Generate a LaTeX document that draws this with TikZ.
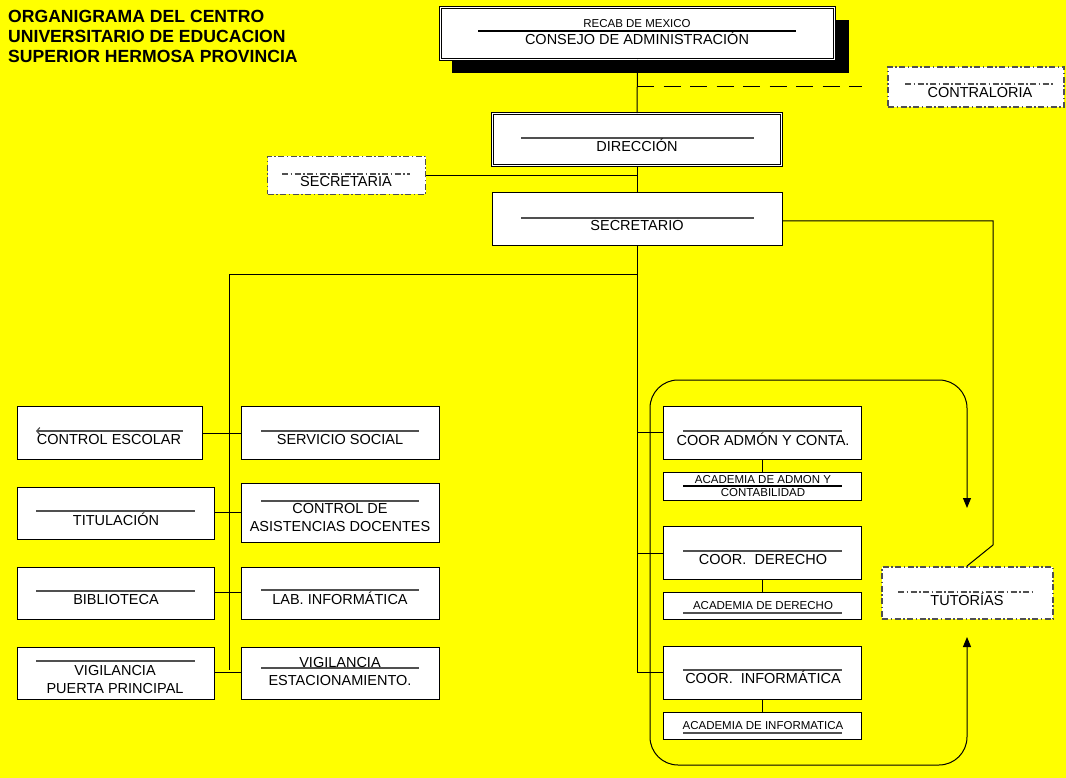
\documentclass[tikz,border=0pt]{standalone}
\usepackage{fontspec}
\setmainfont{Liberation Sans}
\usetikzlibrary{arrows.meta}
\definecolor{bgyellow}{RGB}{255,255,0}
\definecolor{rulegray}{RGB}{80,80,80}
\begin{document}
\begin{tikzpicture}[x=1pt,y=-1pt,
  box/.style={draw=black, fill=white, line width=1pt, inner sep=0pt},
  dbox/.style={draw=black, fill=white, line width=0.7pt, double=white, double distance=1.8pt, inner sep=0pt},
  ddbox/.style={draw=rulegray, fill=white, line width=1.3pt, inner sep=0pt,
    dash pattern=on 6pt off 2.5pt on 1.5pt off 2.5pt},
  conn/.style={draw=black, line width=1pt},
  inrule/.style={draw=rulegray, line width=1.2pt},
  ddrule/.style={draw=rulegray, line width=1.2pt, dash pattern=on 6pt off 2.5pt on 1.5pt off 2.5pt},
  txt/.style={font=\fontsize{14.5}{18}\selectfont, inner sep=0pt, align=center, anchor=base},
  txtc/.style={font=\fontsize{14.5}{18}\selectfont, inner sep=0pt, align=center, anchor=center},
  stxt/.style={font=\fontsize{11.5}{13.3}\selectfont, inner sep=0pt, align=center, anchor=base},
  stxtc/.style={font=\fontsize{11.5}{13.3}\selectfont, inner sep=0pt, align=center, anchor=center}
]
\useasboundingbox (0,0) rectangle (1066,778);
\fill[bgyellow] (0,0) rectangle (1066,778);

% title
\node[inner sep=0pt, anchor=north west, align=left, font=\bfseries\fontsize{17.6}{20}\selectfont] (title) at (8,10)
  {ORGANIGRAMA DEL CENTRO\\UNIVERSITARIO DE EDUCACION\\SUPERIOR HERMOSA PROVINCIA};

% Consejo
\fill[black] (452,20) rectangle (849,73);
\node[dbox, minimum width=394, minimum height=52] (consejo) at (637.5,33.5) {};
\draw[inrule, draw=black] (478,31) -- (796,31);
\node[stxt] (consejo-t1) at (637,27.2) {RECAB DE MEXICO};
\node[txt] (consejo-t2) at (637,45) {CONSEJO DE ADMINISTRACIÓN};

% Contraloria
\node[ddbox, minimum width=176, minimum height=40] (contra) at (976,87) {};
\draw[ddrule] (905,84) -- (1053,84);
\node[txt] (contra-t) at (980,97.5) {CONTRALORIA};

% Direccion
\node[dbox, minimum width=289, minimum height=52] (dir) at (637,139.5) {};
\draw[inrule] (521,138) -- (754,138);
\node[txt] (dir-t) at (637,151.7) {DIRECCIÓN};

% Secretaria
\node[ddbox, minimum width=158, minimum height=38] (sria) at (346.5,175.5) {};
\draw[ddrule] (282,174) -- (410,174);
\node[txt] (sria-t) at (346,187) {SECRETARIA};

% Secretario
\node[box, minimum width=290, minimum height=53] (srio) at (637,219.5) {};
\draw[inrule] (521,218) -- (754,218);
\node[txt] (srio-t) at (637,231) {SECRETARIO};

% Tutorias
\node[ddbox, minimum width=171, minimum height=52] (tut) at (967.5,593) {};
\draw[ddrule] (898,592) -- (1032,592);
\node[txt] (tut-t) at (967,605) {TUTORÍAS};

% main spine connectors
\coordinate (j87) at (637,87);
\coordinate (j176) at (637,176);
\coordinate (j275) at (637,275);
\coordinate (l275) at (229,275);
\coordinate (l670) at (229,670);
\coordinate (r432) at (637,432);
\coordinate (r553) at (637,553);
\coordinate (r672) at (637,672);
\draw[conn] (consejo.south) -- (dir.north);
\draw[conn, dash pattern=on 17pt off 9.5pt] (j87) -- (862,87);
\draw[conn] (sria.east |- j176) -- (j176);
\draw[conn] (dir.south) -- (srio.north);
\draw[conn] (srio.south) -- (r672);
\draw[conn] (j275) -- (l275) -- (l670);
\coordinate (srioR) at (782,221);
\coordinate (bend1) at (993,221);
\coordinate (bend2) at (993,545);
\draw[conn] (srioR) -- (bend1) -- (bend2) -- (967,566);

% left column
\node[box, minimum width=185, minimum height=53] (ce) at (109.5,432.5) {};
\draw[inrule, {Straight Barb[length=3pt,width=7pt]}-] (36,431) -- (183,431);
\node[txt] (ce-t) at (109,444) {CONTROL ESCOLAR};

\node[box, minimum width=197, minimum height=52] (tit) at (115.5,513) {};
\draw[inrule] (36,511) -- (195,511);
\node[txt] (tit-t) at (116,525) {TITULACIÓN};

\node[box, minimum width=197, minimum height=52] (bib) at (115.5,593) {};
\draw[inrule] (36,591) -- (195,591);
\node[txt] (bib-t) at (116,604) {BIBLIOTECA};

\node[box, minimum width=197, minimum height=52] (vpp) at (115.5,673) {};
\draw[inrule] (36,661) -- (195,661);
\node[txtc] (vpp-t) at (115,679.5) {VIGILANCIA\\PUERTA PRINCIPAL};

% right column
\node[box, minimum width=198, minimum height=53] (ss) at (340,432.5) {};
\draw[inrule] (261,431) -- (419,431);
\node[txt] (ss-t) at (340,444) {SERVICIO SOCIAL};

\node[box, minimum width=198, minimum height=59] (cad) at (340,512.5) {};
\draw[inrule] (261,501) -- (419,501);
\node[txtc] (cad-t) at (340,517.7) {CONTROL DE\\ASISTENCIAS DOCENTES};

\node[box, minimum width=198, minimum height=52] (lab) at (340,593) {};
\draw[inrule] (261,590) -- (419,590);
\node[txt] (lab-t) at (340,604) {LAB. INFORMÁTICA};

\node[box, minimum width=198, minimum height=52] (ve) at (340,673) {};
\draw[inrule] (261,668) -- (419,668);
\node[txtc] (ve-t) at (340,672) {VIGILANCIA\\ESTACIONAMIENTO.};

\draw[conn] (ce.east |- 0,433) -- (ss.west |- 0,433);
\draw[conn] (tit.east |- 0,512) -- (cad.west |- 0,512);
\draw[conn] (bib.east |- 0,592) -- (lab.west |- 0,592);
\draw[conn] (vpp.east |- 0,672) -- (ve.west |- 0,672);

% coordinators
\node[box, minimum width=198, minimum height=53] (cac) at (762.5,432.5) {};
\draw[inrule] (683,431) -- (842,431);
\node[txt] (cac-t) at (763,445) {COOR ADMÓN Y CONTA.};

\node[box, minimum width=198, minimum height=28] (aac) at (762.5,486) {};
\draw[inrule, draw=black] (683,486) -- (842,486);
\node[stxtc] (aac-t) at (763,485.8) {ACADEMIA DE ADMON Y\\CONTABILIDAD};

\node[box, minimum width=198, minimum height=53] (cder) at (762.5,552.5) {};
\draw[inrule] (683,551) -- (842,551);
\node[txt] (cder-t) at (763,564) {COOR.\ \ DERECHO};

\node[box, minimum width=198, minimum height=27] (ader) at (762.5,605.5) {};
\draw[inrule] (683,613) -- (842,613);
\node[stxt] (ader-t) at (763,609.2) {ACADEMIA DE DERECHO};

\node[box, minimum width=198, minimum height=53] (cinf) at (762.5,672.5) {};
\draw[inrule] (683,670) -- (842,670);
\node[txt] (cinf-t) at (763,683.3) {COOR.\ \ INFORMÁTICA};

\node[box, minimum width=198, minimum height=27] (ainf) at (762.5,725.5) {};
\draw[inrule] (683,733) -- (842,733);
\node[stxt] (ainf-t) at (763,729.3) {ACADEMIA DE INFORMATICA};

\draw[conn] (r432) -- (cac.west |- r432);
\draw[conn] (r553) -- (cder.west |- r553);
\draw[conn] (r672) -- (cinf.west |- r672);
\draw[conn] (cac.south) -- (aac.north);
\draw[conn] (cder.south) -- (ader.north);
\draw[conn] (cinf.south) -- (ainf.north);

% rounded loop with arrows to tutorias
\coordinate (tutup) at (967,637);
\coordinate (tutdown) at (967,508);
\draw[conn, rounded corners=28pt, {Triangle[length=10pt,width=8pt]}-{Triangle[length=10pt,width=8pt]}]
  (tutup) -- (967,765) -- (650,765) -- (650,380) -- (967,380) -- (tutdown);
\end{tikzpicture}
\end{document}
